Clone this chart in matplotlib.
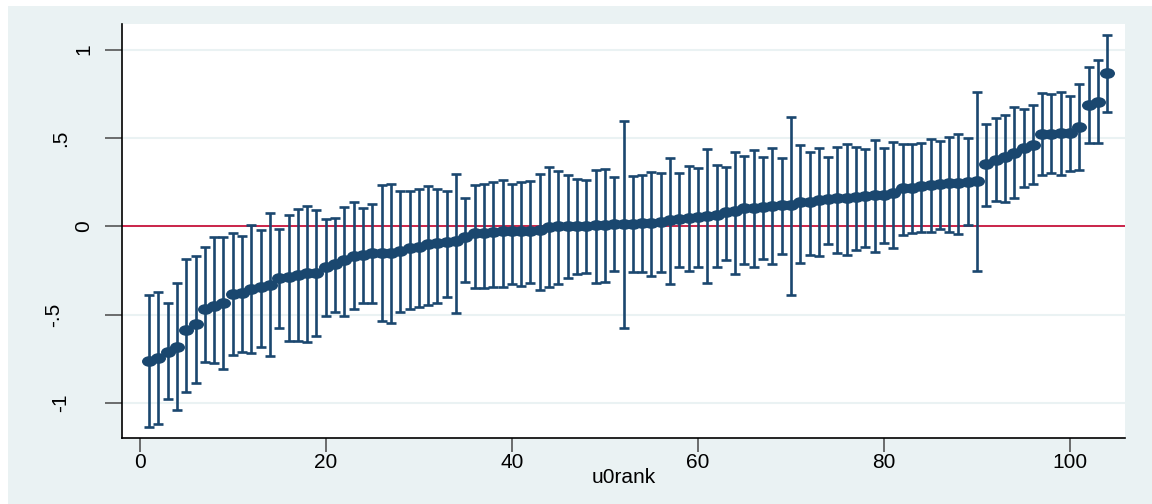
import matplotlib
matplotlib.use("Agg")
import matplotlib.pyplot as plt
import numpy as np
from matplotlib.path import Path
from matplotlib.transforms import Affine2D, ScaledTranslation
from matplotlib.patches import Rectangle

# u0 residuals ranked, with 95% intervals
rank = np.arange(1, 105)
u0 = [-0.762, -0.747, -0.710, -0.681, -0.587, -0.553, -0.470, -0.451, -0.432, -0.385,
      -0.379, -0.355, -0.342, -0.332, -0.294, -0.289, -0.276, -0.266, -0.262, -0.232,
      -0.213, -0.191, -0.168, -0.164, -0.153, -0.153, -0.150, -0.138, -0.125, -0.115,
      -0.100, -0.096, -0.089, -0.081, -0.059, -0.040, -0.036, -0.030, -0.028, -0.027,
      -0.026, -0.025, -0.022, -0.002, 0.000, 0.001, 0.003, 0.004, 0.007, 0.009,
      0.011, 0.013, 0.014, 0.017, 0.019, 0.024, 0.036, 0.040, 0.049, 0.054,
      0.060, 0.064, 0.081, 0.087, 0.102, 0.105, 0.107, 0.115, 0.119, 0.121,
      0.135, 0.139, 0.149, 0.153, 0.158, 0.162, 0.168, 0.173, 0.177, 0.180,
      0.187, 0.215, 0.218, 0.228, 0.234, 0.239, 0.243, 0.245, 0.252, 0.258,
      0.351, 0.375, 0.394, 0.413, 0.441, 0.460, 0.521, 0.524, 0.526, 0.527,
      0.560, 0.686, 0.705, 0.866]
lo = [-1.138, -1.121, -0.979, -1.040, -0.936, -0.885, -0.768, -0.775, -0.808, -0.728,
      -0.710, -0.715, -0.681, -0.732, -0.574, -0.647, -0.647, -0.653, -0.621, -0.506,
      -0.483, -0.506, -0.470, -0.432, -0.432, -0.536, -0.545, -0.483, -0.466, -0.455,
      -0.447, -0.436, -0.398, -0.492, -0.313, -0.351, -0.351, -0.342, -0.342, -0.327,
      -0.336, -0.323, -0.360, -0.342, -0.327, -0.294, -0.270, -0.262, -0.319, -0.313,
      -0.253, -0.574, -0.257, -0.257, -0.279, -0.260, -0.327, -0.232, -0.251, -0.232,
      -0.319, -0.229, -0.191, -0.270, -0.215, -0.229, -0.185, -0.215, -0.158, -0.389,
      -0.206, -0.162, -0.166, -0.102, -0.153, -0.162, -0.134, -0.115, -0.147, -0.096,
      -0.125, -0.049, -0.040, -0.030, -0.034, -0.015, -0.030, -0.045, 0.007, -0.251,
      0.117, 0.143, 0.139, 0.158, 0.224, 0.239, 0.290, 0.303, 0.290, 0.315,
      0.319, 0.470, 0.473, 0.645]
hi = [-0.389, -0.370, -0.436, -0.323, -0.187, -0.166, -0.115, -0.059, -0.059, -0.036,
      -0.053, 0.007, -0.021, 0.073, -0.015, 0.064, 0.098, 0.115, 0.092, 0.040,
      0.045, 0.111, 0.139, 0.105, 0.126, 0.232, 0.239, 0.201, 0.200, 0.209,
      0.228, 0.213, 0.201, 0.296, 0.162, 0.234, 0.238, 0.252, 0.262, 0.239,
      0.252, 0.258, 0.294, 0.334, 0.315, 0.290, 0.266, 0.262, 0.319, 0.323,
      0.277, 0.598, 0.285, 0.290, 0.309, 0.303, 0.388, 0.300, 0.341, 0.332,
      0.436, 0.345, 0.337, 0.422, 0.400, 0.432, 0.394, 0.441, 0.385, 0.617,
      0.460, 0.419, 0.445, 0.394, 0.447, 0.466, 0.447, 0.437, 0.488, 0.441,
      0.475, 0.466, 0.466, 0.473, 0.492, 0.483, 0.507, 0.522, 0.501, 0.762,
      0.577, 0.615, 0.630, 0.673, 0.662, 0.686, 0.753, 0.749, 0.762, 0.739,
      0.804, 0.903, 0.941, 1.083]

xticks = [0, 20, 40, 60, 80, 100]
yticks = [-1, -0.5, 0, 0.5, 1]
ylabels = ["-1", "-.5", "0", ".5", "1"]

navy = "#1a476f"
bg = "#eaf2f3"

plt.rcParams['font.family'] = ['Liberation Sans', 'DejaVu Sans']

fig = plt.figure(figsize=(11.52, 5.04), dpi=100)
fig.patch.set_facecolor("white")
# stata graph region (white strip on left/top)
fig.patches.append(Rectangle((8 / 1152, 0), 1 - 8 / 1152, 1 - 6 / 504,
                             transform=fig.transFigure, facecolor=bg,
                             edgecolor="none", zorder=-10))

ax = fig.add_axes([122 / 1152, 1 - 438 / 504, (1125 - 122) / 1152, (438 - 24) / 504])
ax.set_facecolor("white")

for y in yticks:
    ax.axhline(y, color=bg, lw=1.5, zorder=0)
ax.axhline(0, color="#c8143c", lw=1.3, zorder=1)

u0 = np.array(u0)
lo = np.array(lo)
hi = np.array(hi)
ax.errorbar(rank, u0, yerr=[u0 - lo, hi - u0], fmt="none", ecolor=navy,
            elinewidth=1.9, capsize=3.6, capthick=1.9, zorder=2)

# stretched circle like in the exported graph
ell = Affine2D().scale(1.4, 1.0).transform_path(Path.unit_circle())
ax.plot(rank, u0, ls="none", marker=ell, markersize=10.8, color=navy,
        markeredgewidth=0, zorder=3)

ax.set_xlim(-1.9, 105.9)
ax.set_ylim(-1.198, 1.145)
ax.set_xticks(xticks)
ax.set_yticks(yticks)
ax.set_yticklabels(ylabels, rotation=90, va="center", ha="right")
ax.tick_params(axis="both", direction="out", length=10, width=1.2,
               color="#555555", labelsize=15, pad=0.5)
ax.tick_params(axis="y", length=12, pad=8.5)
# longer labels sit further left, like stata does it
for lab in ax.get_yticklabels():
    shift = {1: 0, 2: 23, 3: 30}[len(lab.get_text())]
    lab.set_transform(lab.get_transform() +
                      ScaledTranslation(-shift / 100, 0, fig.dpi_scale_trans))
for s in ["top", "right"]:
    ax.spines[s].set_visible(False)
for s in ["left", "bottom"]:
    ax.spines[s].set_linewidth(1.2)
ax.set_xlabel("u0rank", fontsize=15, labelpad=-2.5)

fig.savefig("out.png", dpi=100)
